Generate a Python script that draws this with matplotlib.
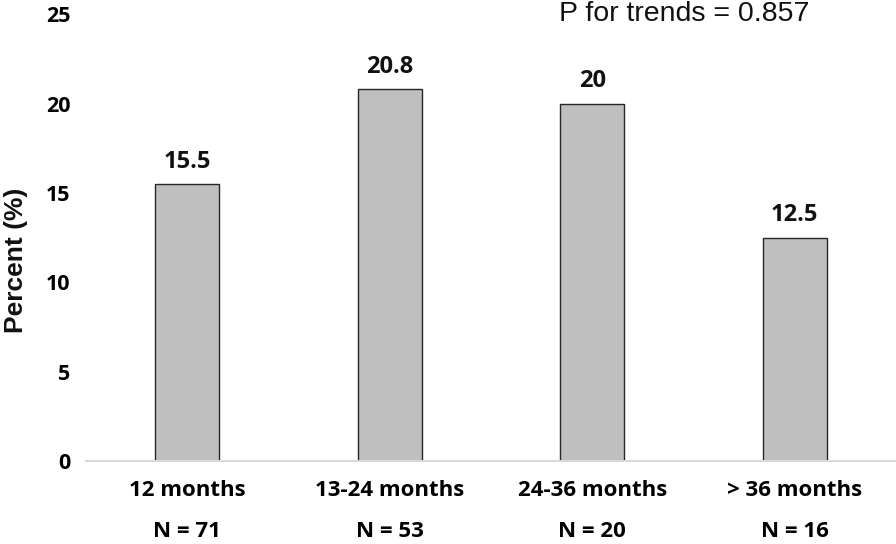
import matplotlib
matplotlib.use("Agg")
import matplotlib.pyplot as plt

categories = ["12 months", "13-24 months", "24-36 months", "> 36 months"]
n_labels = ["N = 71", "N = 53", "N = 20", "N = 16"]
values = [15.5, 20.8, 20, 12.5]
value_labels = ["15.5", "20.8", "20", "12.5"]
yticks = [0, 5, 10, 15, 20, 25]

plt.rcParams['font.family'] = ['Open Sans', 'DejaVu Sans']

fig = plt.figure(figsize=(8.96, 5.44), dpi=100)
ax = fig.add_axes([0.096, 0.1526, 0.904, 0.8214])

x = list(range(len(categories)))
ax.bar(x, values, width=0.317, color="#bfbfbf", edgecolor="#262626", linewidth=1.0, zorder=2)
for xi, v, lab in zip(x, values, value_labels):
    ax.annotate(lab, (xi, v), xytext=(0, 16), textcoords="offset points",
                ha="center", va="center", fontsize=17, fontweight="bold", color="#111111")

ax.set_xlim(-0.5, 3.5)
ax.set_ylim(0, 25)
ax.set_yticks(yticks)
ax.set_yticklabels([str(t) for t in yticks], fontsize=15.5, fontweight="bold")
ax.set_xticks(x)
ax.set_xticklabels([c + "\n" + n for c, n in zip(categories, n_labels)],
                   fontsize=16, fontweight="bold", linespacing=2.2)
ax.tick_params(axis="both", length=0)
ax.tick_params(axis="y", pad=11)
ax.tick_params(axis="x", pad=14)
for s in ["top", "right", "left"]:
    ax.spines[s].set_visible(False)
ax.spines["bottom"].set_color("#d9d9d9")
ax.spines["bottom"].set_linewidth(1.5)

fig.text(16 / 896, 1 - 260 / 544, "Percent (%)", fontsize=19, fontweight="bold",
         family="Liberation Sans", rotation=90, ha="center", va="center", color="#111111")

fig.text(684 / 896, 1 - 14 / 544, "P for trends = 0.857", fontsize=20.5, family="Liberation Sans",
         ha="center", va="center", color="#111111")

fig.savefig("out.png", dpi=100)
